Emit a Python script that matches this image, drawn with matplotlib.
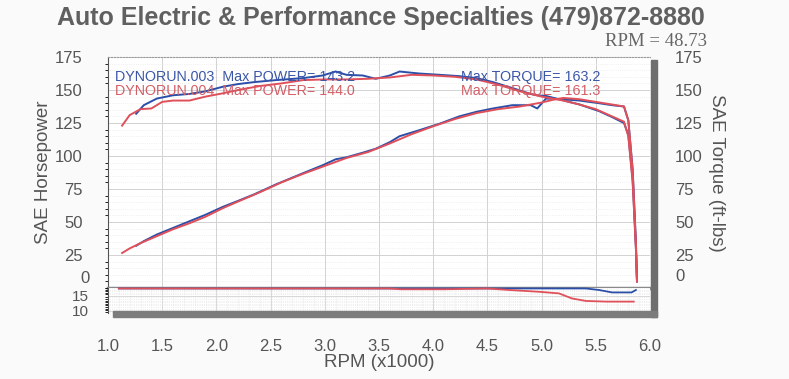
import matplotlib.pyplot as plt
from matplotlib.patches import Rectangle
from matplotlib.ticker import MultipleLocator

plt.rcParams['font.family'] = ['Liberation Sans', 'DejaVu Sans']

# run 003 (blue)
rpm_003 = [1.26, 1.33, 1.45, 1.6, 1.75, 1.9, 2.06, 2.2, 2.35, 2.55, 2.8, 2.98, 3.1, 3.2, 3.35, 3.47,
           3.6, 3.69, 3.87, 4.06, 4.24, 4.4, 4.55, 4.73, 4.9, 4.96, 5.04, 5.16, 5.35, 5.53, 5.65,
           5.76, 5.8, 5.84, 5.87, 5.88]
tq_003 = [132, 138.5, 143.5, 146, 147, 149, 152.5, 154.5, 156, 157.5, 159, 161, 164, 161.5, 161, 158.5,
          161, 164, 162.5, 161.5, 160.5, 159, 156, 151.5, 147, 146, 145.5, 143, 139, 134, 129.5,
          125, 116, 82, 30, 5]
hp_003 = [32, 35.5, 40.5, 45.5, 50.5, 55.5, 61.5, 66, 71, 78.5, 87, 93, 97.5, 99, 102.5, 105.5,
          110.5, 115, 119.5, 124.5, 130, 133.5, 136, 138.5, 138.5, 136, 143.5, 143.2, 142, 140, 138.5,
          137.5, 127, 90, 35, 5]

# run 004 (red)
rpm_004 = [1.13, 1.2, 1.3, 1.4, 1.5, 1.6, 1.75, 1.9, 2.06, 2.2, 2.4, 2.6, 2.8, 3.0, 3.2, 3.4, 3.6,
           3.8, 4.0, 4.2, 4.4, 4.6, 4.8, 5.0, 5.1, 5.2, 5.35, 5.5, 5.65, 5.76, 5.8, 5.84, 5.87, 5.88]
tq_004 = [123, 131, 135.5, 136, 141, 142, 142, 145, 147.5, 150, 153, 155, 157.5, 158, 158, 158.5, 159.5,
          161.5, 161, 160, 158, 154, 149, 145, 143.5, 142, 139, 135.5, 130, 126, 115, 80, 30, 5]
hp_004 = [26.5, 30, 34, 37.5, 41, 44.5, 49, 54, 60.5, 65.5, 72.5, 80, 86.5, 92.5, 98.5, 103, 109.5,
          116.5, 122.5, 128, 132.5, 135.5, 137.5, 140.5, 142.5, 144, 143, 141, 139, 137.5, 127, 89, 33, 5]

# lower strip traces
strip_rpm_003 = [1.1, 5.41, 5.53, 5.65, 5.83, 5.87]
strip_003 = [17.35, 17.35, 16.87, 16.1, 16.1, 16.87]
strip_rpm_004 = [1.1, 3.6, 3.7, 4.1, 4.5, 4.7, 4.98, 5.16, 5.28, 5.41, 5.6, 5.85]
strip_004 = [17.35, 17.35, 17.1, 17.1, 17.35, 16.87, 16.3, 15.8, 14.2, 13.4, 13.2, 13.2]

blue = '#2b4fa8'
red = '#e0505a'
txt = '#555555'

W, H = 789, 379
fig = plt.figure(figsize=(W / 100, H / 100), dpi=100, facecolor='#fafafa')

def fx(px):
    return px / W

def fy(py):
    return 1 - py / H

ax = fig.add_axes([fx(108), fy(288), fx(650) - fx(108), fy(57) - fy(288)])
ax.set_facecolor('white')
ax.set_xlim(1.0, 6.0)
ax.set_ylim(0, 175)

ax.plot(rpm_003, tq_003, color=blue, lw=1.4)
ax.plot(rpm_003, hp_003, color=blue, lw=1.4)
ax.plot(rpm_004, tq_004, color=red, lw=1.4)
ax.plot(rpm_004, hp_004, color=red, lw=1.4)

ax.xaxis.set_major_locator(MultipleLocator(0.5))
ax.yaxis.set_major_locator(MultipleLocator(25))
ax.yaxis.set_minor_locator(MultipleLocator(5))
ax.grid(True, which='major', color='#d2d2d2', lw=0.7)
ax.grid(True, which='minor', axis='y', color='#e6e6e6', lw=0.5, ls=':')
ax.set_yticks([25, 50, 75, 100, 125, 150, 175])
ax.tick_params(axis='both', length=0, labelsize=12, labelcolor=txt)
ax.tick_params(axis='y', pad=18)
ax.tick_params(axis='x', labelbottom=False)
ax.set_ylabel('SAE Horsepower', fontsize=13.5, color=txt, labelpad=2)
ax.annotate('0', xy=(0, 0), xycoords=('axes fraction', 'data'), xytext=(-13, 7),
            textcoords='offset points', ha='right', va='center', fontsize=12, color=txt)

ax.spines['top'].set_color('#9a9a9a')
ax.spines['top'].set_linestyle(':')
ax.spines['left'].set_color('#555555')
ax.spines['right'].set_visible(False)
ax.spines['bottom'].set_color('#8a8a8a')
ax.spines['bottom'].set_linewidth(2.5)

ax2 = ax.twinx()
ax2.set_ylim(0, 175)
ax2.set_yticks([25, 50, 75, 100, 125, 150, 175])
ax2.tick_params(axis='y', length=0, labelsize=12, labelcolor=txt, pad=18)
for s in ax2.spines.values():
    s.set_visible(False)
ax2.set_ylabel('SAE Torque (ft-lbs)', fontsize=13.5, color=txt, rotation=-90, labelpad=16)
ax2.annotate('0', xy=(1, 0), xycoords=('axes fraction', 'data'), xytext=(18, 8),
             textcoords='offset points', ha='left', va='center', fontsize=12, color=txt)

ax.text(0.012, 0.913, 'DYNORUN.003  Max POWER= 143.2', transform=ax.transAxes,
        color='#3a56a8', fontsize=10.3, va='center')
ax.text(0.012, 0.853, 'DYNORUN.004  Max POWER= 144.0', transform=ax.transAxes,
        color='#d25e66', fontsize=10.3, va='center')
ax.text(0.651, 0.913, 'Max TORQUE= 163.2', transform=ax.transAxes,
        color='#3a56a8', fontsize=10.3, va='center')
ax.text(0.651, 0.853, 'Max TORQUE= 161.3', transform=ax.transAxes,
        color='#d25e66', fontsize=10.3, va='center')

# lower strip
axs = fig.add_axes([fx(108), fy(313), fx(650) - fx(108), fy(288) - fy(313)])
axs.set_facecolor('white')
axs.set_xlim(1.0, 6.0)
axs.set_ylim(9.6, 17.5)
axs.plot(strip_rpm_003, strip_003, color=blue, lw=1.3, clip_on=False)
axs.plot(strip_rpm_004, strip_004, color=red, lw=1.3, clip_on=False)
axs.xaxis.set_major_locator(MultipleLocator(0.5))
axs.xaxis.set_minor_locator(MultipleLocator(0.1))
axs.yaxis.set_minor_locator(MultipleLocator(0.5))
axs.set_yticks([15, 10.3])
axs.set_yticklabels(['15', '10'])
axs.grid(True, which='major', color='#d2d2d2', lw=0.6)
axs.grid(True, which='minor', color='#e2e2e2', lw=0.5, ls=':')
axs.tick_params(axis='both', length=0, labelsize=11, labelcolor=txt)
axs.tick_params(axis='y', pad=14)
axs.tick_params(axis='x', pad=19, labelsize=12)
axs.set_xticks([1.0, 1.5, 2.0, 2.5, 3.0, 3.5, 4.0, 4.5, 5.0, 5.5, 6.0])
axs.set_xticklabels(['1.0', '1.5', '2.0', '2.5', '3.0', '3.5', '4.0', '4.5', '5.0', '5.5', '6.0'])
axs.set_xlabel('RPM (x1000)', fontsize=13.5, color=txt, labelpad=0)
axs.spines['top'].set_visible(False)
axs.spines['right'].set_visible(False)
axs.spines['bottom'].set_visible(False)
axs.spines['left'].set_color('#555555')

# printed shadow bands
fig.patches.append(Rectangle((fx(651), fy(317)), fx(6), fy(60) - fy(317),
                             transform=fig.transFigure, color='#6e6e6e', zorder=5))
fig.patches.append(Rectangle((fx(113), fy(317)), fx(657) - fx(113), fy(311) - fy(317),
                             transform=fig.transFigure, color='#7c7c7c', zorder=5))

fig.text(fx(381), fy(18), 'Auto Electric & Performance Specialties (479)872-8880',
         ha='center', va='center', fontsize=18, fontweight='bold', color='#606060')
fig.text(fx(605), fy(41), 'RPM = 48.73', ha='left', va='center', fontsize=13.5,
         family=['Liberation Serif', 'DejaVu Serif'], color='#666666')

fig.savefig('out.png', dpi=100, facecolor=fig.get_facecolor())
